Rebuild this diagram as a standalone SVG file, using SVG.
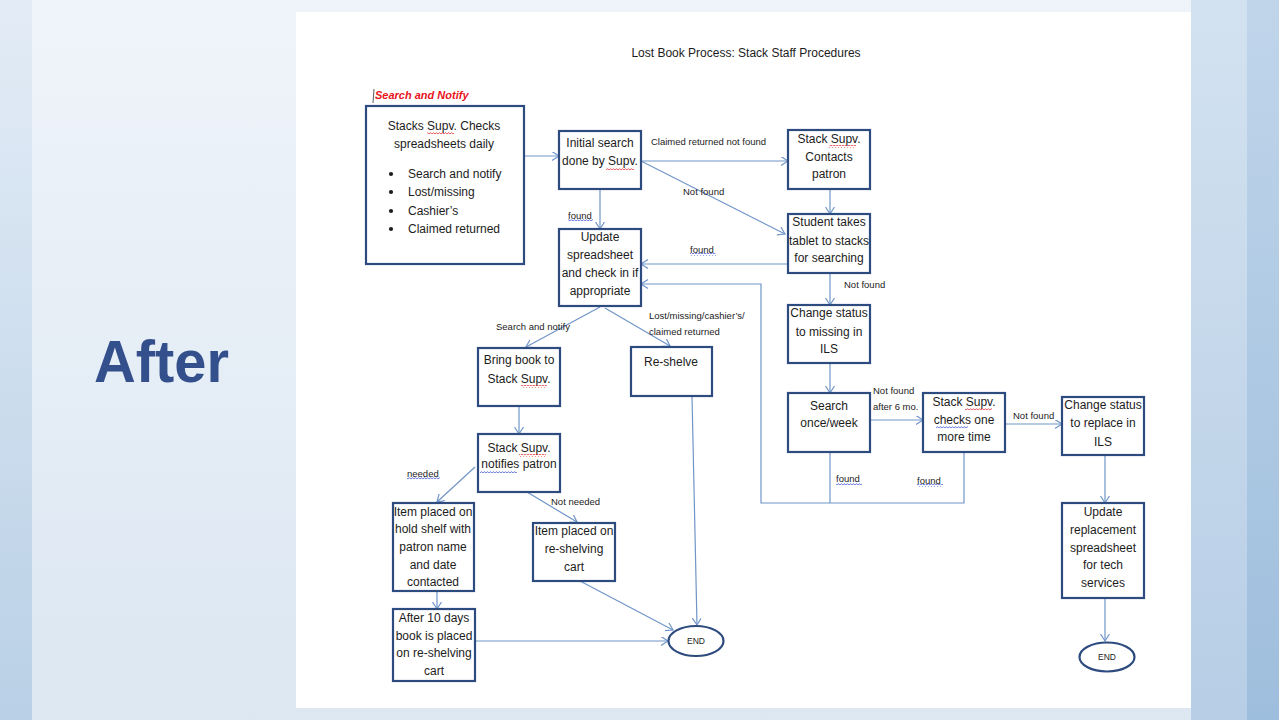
<svg xmlns="http://www.w3.org/2000/svg" width="1279" height="720" viewBox="0 0 1279 720">
<defs>
<linearGradient id="bgMain" x1="0" y1="0" x2="0" y2="1">
<stop offset="0" stop-color="#eff4fa"/><stop offset="1" stop-color="#dce7f2"/>
</linearGradient>
<linearGradient id="bgLeft" x1="0" y1="0" x2="0" y2="1">
<stop offset="0" stop-color="#e3ecf6"/><stop offset="1" stop-color="#b9d0e6"/>
</linearGradient>
<linearGradient id="bgRight" x1="0" y1="0" x2="0" y2="1">
<stop offset="0" stop-color="#d3e2f0"/><stop offset="1" stop-color="#b7cee6"/>
</linearGradient>
<linearGradient id="bgRight2" x1="0" y1="0" x2="0" y2="1">
<stop offset="0" stop-color="#c0d5ea"/><stop offset="1" stop-color="#9ebedd"/>
</linearGradient>
<pattern id="sqR" width="3" height="3" patternUnits="userSpaceOnUse">
<path d="M0,2.2 L1.5,0.6 L3,2.2" fill="none" stroke="#e0262a" stroke-width="0.8"/>
</pattern>
<pattern id="sqB" width="3" height="3" patternUnits="userSpaceOnUse">
<path d="M0,2.2 L1.5,0.6 L3,2.2" fill="none" stroke="#3b4fd2" stroke-width="0.8"/>
</pattern>
<marker id="arr" markerUnits="userSpaceOnUse" markerWidth="10" markerHeight="10" refX="7" refY="4.5" orient="auto">
<path d="M0,0 L7,4.5 L0,9" fill="none" stroke="#7095c8" stroke-width="1.2"/>
</marker>
<style>
.box{fill:#fff;stroke:#2d4b7e;stroke-width:2.2}
.t{font-family:"Liberation Sans",Arial,sans-serif;font-size:12px;fill:#1c1c1c;text-anchor:middle}
.tl{font-family:"Liberation Sans",Arial,sans-serif;font-size:12px;fill:#1c1c1c}
.lbl{font-family:"Liberation Sans",Arial,sans-serif;font-size:9.5px;fill:#1c1c1c}
.end{font-family:"Liberation Sans",Arial,sans-serif;font-size:8.5px;fill:#1c1c1c;text-anchor:middle}
.conn{stroke:#7095c8;stroke-width:1.2;fill:none}
.arr{marker-end:url(#arr)}
.sr{fill:url(#sqR)}
.sb{fill:url(#sqB)}
</style>
</defs>

<rect x="0" y="0" width="1279" height="720" fill="url(#bgMain)"/>
<rect x="0" y="0" width="32" height="720" fill="url(#bgLeft)"/>
<rect x="1191" y="0" width="88" height="720" fill="url(#bgRight)"/>
<rect x="1247" y="0" width="32" height="720" fill="url(#bgRight2)"/>

<text x="94" y="382" font-family="Liberation Sans, Arial, sans-serif" font-weight="bold" font-size="60" fill="#34508c" textLength="135" lengthAdjust="spacingAndGlyphs">After</text>

<rect x="296" y="12" width="895" height="696" fill="#ffffff"/>

<text class="t" x="746" y="57">Lost Book Process: Stack Staff Procedures</text>

<line x1="374" y1="89" x2="373" y2="103" stroke="#333" stroke-width="0.8"/>
<text x="375" y="99" font-family="Liberation Sans, Arial, sans-serif" font-weight="bold" font-style="italic" font-size="11" fill="#e8141c">Search and Notify</text>

<g id="connectors">
<path class="conn arr" d="M524,156 H559"/>
<path class="conn arr" d="M641,161 H788"/>
<path class="conn arr" d="M641,161 L785,234"/>
<path class="conn arr" d="M830,189 V214"/>
<path class="conn arr" d="M788,264 H641"/>
<path class="conn arr" d="M600,189 V229"/>
<path class="conn arr" d="M830,273 V305"/>
<path class="conn arr" d="M830,363 V393"/>
<path class="conn arr" d="M870,420 H923"/>
<path class="conn arr" d="M1006,424 H1062"/>
<path class="conn arr" d="M1105,455 V503"/>
<path class="conn arr" d="M1105,598 V641"/>
<path class="conn arr" d="M964,452 V503 H761 V284 H641"/>
<path class="conn" d="M830,452 V503"/>
<path class="conn arr" d="M600,307 L526,347"/>
<path class="conn arr" d="M605,308 L670,346"/>
<path class="conn arr" d="M519,406 V434"/>
<path class="conn arr" d="M475,467 L437,502"/>
<path class="conn arr" d="M527,492 L577,522"/>
<path class="conn arr" d="M437,591 V609"/>
<path class="conn arr" d="M475,641 H668"/>
<path class="conn arr" d="M580,581 L673,630"/>
<path class="conn arr" d="M692,396 L697,625"/>

<text class="lbl" x="651" y="145">Claimed returned not found</text>
<text class="lbl" x="683" y="195">Not found</text>
<text class="lbl" x="568" y="219">found</text>
<rect class="sb" x="568" y="219" width="25" height="3"/>
<text class="lbl" x="690" y="253">found</text>
<rect class="sb" x="690" y="253" width="26" height="3"/>
<text class="lbl" x="844" y="288">Not found</text>
<text class="lbl" x="496" y="330">Search and notify</text>
<text class="lbl" x="649" y="319">Lost/missing/cashier’s/</text>
<text class="lbl" x="649" y="335">claimed returned</text>
<text class="lbl" x="873" y="394">Not found</text>
<text class="lbl" x="873" y="410">after 6 mo.</text>
<text class="lbl" x="1013" y="419">Not found</text>
<text class="lbl" x="836" y="482">found</text>
<rect class="sb" x="836" y="482" width="26" height="3"/>
<text class="lbl" x="917" y="484">found</text>
<rect class="sb" x="917" y="484" width="26" height="3"/>
<text class="lbl" x="407" y="477">needed</text>
<rect class="sb" x="407" y="477" width="33" height="3"/>
<text class="lbl" x="551" y="505">Not needed</text>
</g>

<g id="n-stacks">
<rect class="box" x="366" y="106" width="158" height="158"/>
<text class="t" x="444" y="130">Stacks Supv. Checks</text>
<rect class="sr" x="427" y="132" width="27" height="3"/>
<text class="t" x="444" y="148">spreadsheets daily</text>
<circle cx="391" cy="174" r="2.1" fill="#1c1c1c"/>
<circle cx="391" cy="192" r="2.1" fill="#1c1c1c"/>
<circle cx="391" cy="211" r="2.1" fill="#1c1c1c"/>
<circle cx="391" cy="229" r="2.1" fill="#1c1c1c"/>
<text class="tl" x="408" y="178">Search and notify</text>
<text class="tl" x="408" y="196">Lost/missing</text>
<text class="tl" x="408" y="215">Cashier’s</text>
<text class="tl" x="408" y="233">Claimed returned</text>
</g>

<g id="n-initial">
<rect class="box" x="559" y="131" width="82" height="58"/>
<text class="t" x="600" y="147">Initial search</text>
<text class="t" x="600" y="165">done by Supv.</text>
<rect class="sr" x="606" y="167" width="28" height="3"/>
</g>

<g id="n-contacts">
<rect class="box" x="788" y="130" width="82" height="59"/>
<text class="t" x="829" y="143">Stack Supv.</text>
<rect class="sr" x="829" y="145" width="27" height="3"/>
<text class="t" x="829" y="161">Contacts</text>
<text class="t" x="829" y="178">patron</text>
</g>

<g id="n-student">
<rect class="box" x="788" y="214" width="82" height="59"/>
<text class="t" x="829" y="226">Student takes</text>
<text class="t" x="829" y="245">tablet to stacks</text>
<text class="t" x="829" y="262">for searching</text>
</g>

<g id="n-update">
<rect class="box" x="559" y="229" width="82" height="77"/>
<text class="t" x="600" y="241">Update</text>
<text class="t" x="600" y="259">spreadsheet</text>
<text class="t" x="600" y="277">and check in if</text>
<text class="t" x="600" y="295">appropriate</text>
</g>

<g id="n-missing">
<rect class="box" x="788" y="305" width="82" height="58"/>
<text class="t" x="829" y="317">Change status</text>
<text class="t" x="829" y="336">to missing in</text>
<text class="t" x="829" y="353">ILS</text>
</g>

<g id="n-bring">
<rect class="box" x="478" y="348" width="82" height="58"/>
<text class="t" x="519" y="364">Bring book to</text>
<text class="t" x="519" y="383">Stack Supv.</text>
<rect class="sr" x="521" y="385" width="26" height="3"/>
</g>

<g id="n-reshelve">
<rect class="box" x="631" y="347" width="81" height="49"/>
<text class="t" x="671" y="366">Re-shelve</text>
</g>

<g id="n-week">
<rect class="box" x="788" y="393" width="82" height="59"/>
<text class="t" x="829" y="410">Search</text>
<text class="t" x="829" y="427">once/week</text>
</g>

<g id="n-checks">
<rect class="box" x="923" y="393" width="82" height="59"/>
<text class="t" x="964" y="406">Stack Supv.</text>
<rect class="sr" x="965" y="408" width="27" height="3"/>
<text class="t" x="964" y="424">checks one</text>
<rect class="sb" x="936" y="426" width="32" height="3"/>
<text class="t" x="964" y="441">more time</text>
</g>

<g id="n-replace">
<rect class="box" x="1062" y="397" width="82" height="58"/>
<text class="t" x="1103" y="409">Change status</text>
<text class="t" x="1103" y="427">to replace in</text>
<text class="t" x="1103" y="446">ILS</text>
</g>

<g id="n-notifies">
<rect class="box" x="478" y="434" width="82" height="58"/>
<text class="t" x="519" y="452">Stack Supv.</text>
<rect class="sr" x="519" y="454" width="27" height="3"/>
<text class="t" x="519" y="468">notifies patron</text>
<rect class="sb" x="480" y="470" width="37" height="3"/>
</g>

<g id="n-hold">
<rect class="box" x="393" y="503" width="81" height="88"/>
<text class="t" x="433" y="516">Item placed on</text>
<text class="t" x="433" y="533">hold shelf with</text>
<text class="t" x="433" y="551">patron name</text>
<text class="t" x="433" y="569">and date</text>
<text class="t" x="433" y="586">contacted</text>
</g>

<g id="n-cart">
<rect class="box" x="533" y="523" width="82" height="58"/>
<text class="t" x="574" y="535">Item placed on</text>
<text class="t" x="574" y="553">re-shelving</text>
<text class="t" x="574" y="571">cart</text>
</g>

<g id="n-after10">
<rect class="box" x="393" y="609" width="82" height="72"/>
<text class="t" x="434" y="622">After 10 days</text>
<text class="t" x="434" y="640">book is placed</text>
<text class="t" x="434" y="657">on re-shelving</text>
<text class="t" x="434" y="675">cart</text>
</g>

<g id="n-end1">
<ellipse class="box" cx="696" cy="641" rx="27.5" ry="15"/>
<text class="end" x="696" y="644">END</text>
</g>

<g id="n-replsheet">
<rect class="box" x="1062" y="503" width="82" height="95"/>
<text class="t" x="1103" y="516">Update</text>
<text class="t" x="1103" y="534">replacement</text>
<text class="t" x="1103" y="552">spreadsheet</text>
<text class="t" x="1103" y="569">for tech</text>
<text class="t" x="1103" y="587">services</text>
</g>

<g id="n-end2">
<ellipse class="box" cx="1107" cy="657" rx="27.5" ry="14.5"/>
<text class="end" x="1107" y="660">END</text>
</g>
</svg>
